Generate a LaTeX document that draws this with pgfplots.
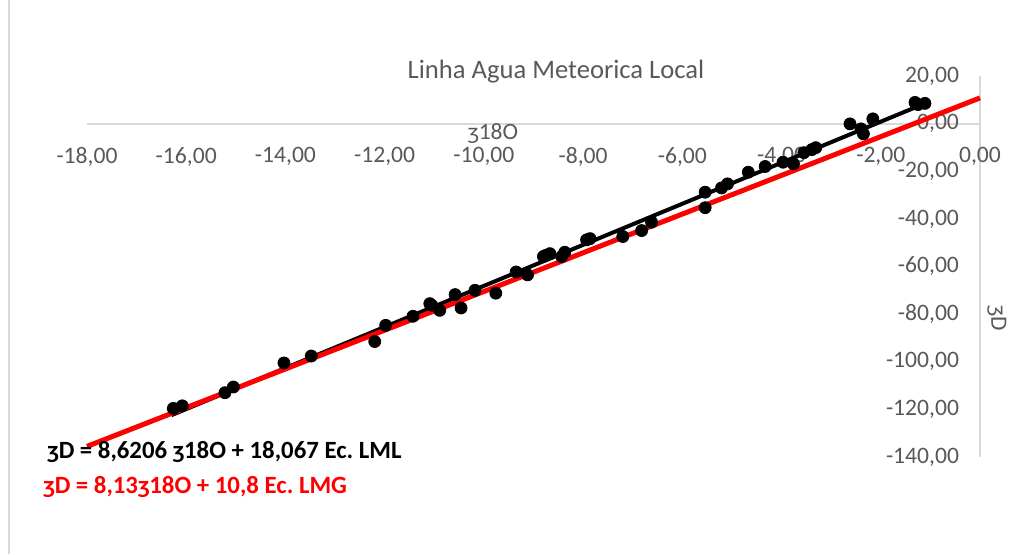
\documentclass[border=0pt]{standalone}
\usepackage{fontspec}
\setmainfont{Carlito}
\usepackage{pgfplots}
\pgfplotsset{compat=1.18}
\definecolor{tickc}{HTML}{595959}
\definecolor{axl}{HTML}{D9D9D9}
\frenchspacing
\begin{document}
\begin{tikzpicture}
\useasboundingbox (-43.5pt,-48.5pt) rectangle (473pt,228.5pt);
\draw[axl, line width=0.75pt] (-39pt,-48.5pt) -- (-39pt,228.5pt);
\begin{axis}[
 scale only axis, width=446.5pt, height=190.5pt,
 xmin=-18, xmax=0, ymin=-140, ymax=20,
 axis x line=middle, axis y line=middle,
 axis line style={axl, line width=1pt, -},
 xtick={-18,-16,...,0}, ytick={-140,-120,...,20},
 major tick length=0pt,
 hide obscured y ticks=false, hide obscured x ticks=false,
 tick label style={font=\fontsize{11.8}{14}\selectfont, text=tickc},
 /pgf/number format/.cd, fixed, fixed zerofill, precision=2, use comma, 1000 sep={}, assume math mode=true,
 /pgfplots/.cd,
 xticklabel={\pgfmathprintnumber{\tick}},
 xticklabel style={anchor=north, yshift=-12pt, inner sep=0pt, outer sep=0pt, align=center, text width=40pt},
 yticklabel style={anchor=east, xshift=-7pt},
 clip=false,
]
\addplot[only marks, mark=*, mark size=3pt, black] coordinates {
(-16.26,-119.6) (-16.08,-118.5) (-15.22,-113.0) (-15.05,-110.6) (-14.03,-100.5)
(-13.48,-97.6) (-12.20,-91.5) (-11.98,-84.7) (-11.43,-80.9) (-11.09,-75.6)
(-11.05,-76.3) (-10.89,-78.4) (-10.58,-71.8) (-10.46,-77.4) (-10.18,-70.0)
(-9.76,-71.2) (-9.35,-62.3) (-9.12,-63.5) (-8.80,-55.8) (-8.67,-54.6)
(-8.75,-55.3) (-8.37,-54.0) (-8.43,-55.8) (-7.93,-48.8) (-7.86,-48.3)
(-7.20,-47.4) (-6.82,-44.9) (-6.62,-41.4) (-5.54,-35.3) (-5.54,-28.8)
(-5.21,-27.0) (-5.09,-25.3) (-4.67,-20.4) (-4.33,-18.0) (-3.97,-16.2)
(-3.76,-16.9) (-3.55,-12.2) (-3.39,-10.9) (-3.31,-10.1) (-2.62,-0.1)
(-2.40,-2.2) (-2.35,-4.3) (-2.16,2.0) (-1.31,8.9) (-1.11,8.5) (-1.25,8.0)
};
\addplot[black, line width=2pt] coordinates {(-16.3,-122.45) (-1.1,8.58)};
\addplot[red, line width=2.5pt] coordinates {(-18,-135.54) (0,10.8)};
\end{axis}
\node[text=tickc, font=\fontsize{13.3}{16}\selectfont] at (234.5pt,192.5pt) {Linha Agua Meteorica Local};
\node[text=tickc, font=\fontsize{11.7}{14}\selectfont] at (203pt,162pt) {ʒ18O};
\node[text=tickc, font=\fontsize{11.7}{14}\selectfont, rotate=-90] at (455pt,69.5pt) {ʒD};
\node[anchor=west, inner sep=0pt, font=\fontsize{12.4}{14}\selectfont\bfseries] at (-20pt,2.5pt) {ʒD = 8,6206 ʒ18O + 18,067 Ec. LML};
\node[anchor=west, inner sep=0pt, text=red, font=\fontsize{12.4}{14}\selectfont\bfseries] at (-22pt,-15pt) {ʒD = 8,13ʒ18O + 10,8 Ec. LMG};
\end{tikzpicture}
\end{document}
